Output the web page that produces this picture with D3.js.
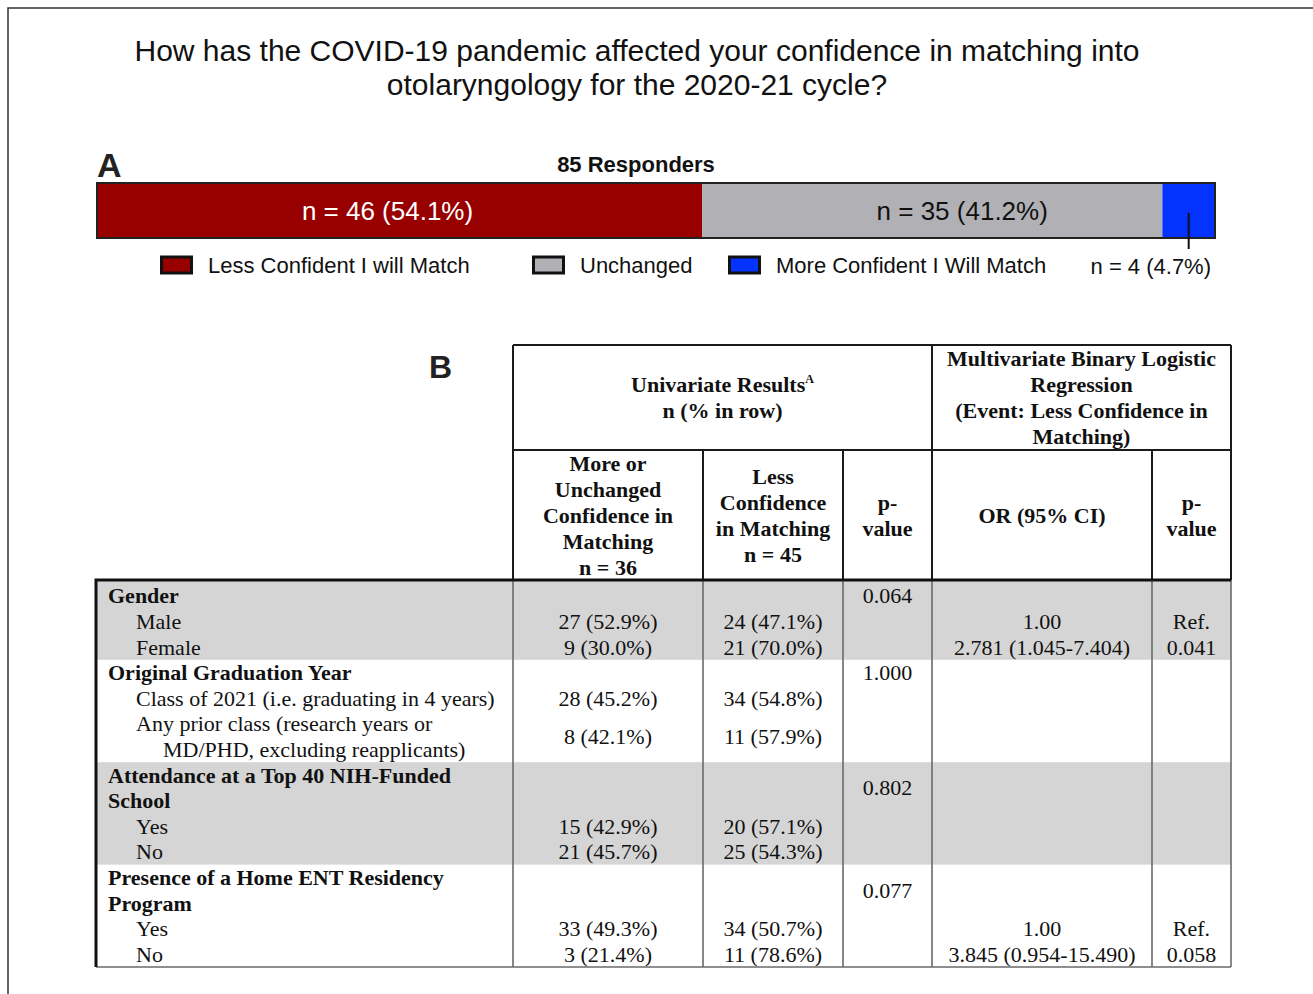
<!DOCTYPE html>
<html>
<head>
<meta charset="utf-8">
<script src="https://cdnjs.cloudflare.com/ajax/libs/d3/7.8.5/d3.min.js"></script>
<style>
    body { margin: 0; background: #fff; }
</style>
</head>
<body>
<script>

// ---- data (panel A) ----
var titleLines = ['How has the COVID-19 pandemic affected your confidence in matching into',
    'otolaryngology for the 2020-21 cycle?'];
var totalResponders = 85;
var responseCategories = ['Less Confident I will Match', 'Unchanged', 'More Confident I Will Match'];
var responseCounts = [46, 35, 4];
var responsePercents = [54.1, 41.2, 4.7];
var responseColors = ['#980000', '#b1b1b5', '#0432ff'];

// ---- data (panel B) ----
var univariateTitle = ['Univariate Results', 'n (% in row)'];
var multivariateTitle = ['Multivariate Binary Logistic', 'Regression', '(Event: Less Confidence in', 'Matching)'];
var columnTitles = [
    ['More or', 'Unchanged', 'Confidence in', 'Matching', 'n = 36'],
    ['Less', 'Confidence', 'in Matching', 'n = 45'],
    ['p-', 'value'],
    ['OR (95% CI)'],
    ['p-', 'value']
];
var groupLabels = [
    ['Gender'],
    ['Original Graduation Year'],
    ['Attendance at a Top 40 NIH-Funded', 'School'],
    ['Presence of a Home ENT Residency', 'Program']
];
var groupPValues = ['0.064', '1.000', '0.802', '0.077'];
var itemLabels = [
    [['Male'], ['Female']],
    [['Class of 2021 (i.e. graduating in 4 years)'], ['Any prior class (research years or', 'MD/PHD, excluding reapplicants)']],
    [['Yes'], ['No']],
    [['Yes'], ['No']]
];
var moreCounts = [[27, 9], [28, 8], [15, 21], [33, 3]];
var morePercents = [[52.9, 30.0], [45.2, 42.1], [42.9, 45.7], [49.3, 21.4]];
var lessCounts = [[24, 21], [34, 11], [20, 25], [34, 11]];
var lessPercents = [[47.1, 70.0], [54.8, 57.9], [57.1, 54.3], [50.7, 78.6]];
var oddsRatios = [['1.00', '2.781 (1.045-7.404)'], [null, null], [null, null], ['1.00', '3.845 (0.954-15.490)']];
var orPValues = [['Ref.', '0.041'], [null, null], [null, null], ['Ref.', '0.058']];

// ---- layout ----
var svgCanvasW = 1313, svgCanvasH = 994;
var sans = 'Liberation Sans, Arial, sans-serif';
var serif = 'Liberation Serif, Times New Roman, serif';
var barConfig = {x0: 97, x1: 1215, y: 183, height: 55};
var legendX = [160, 532, 728];
var colEdges = [96, 513, 703, 843, 932, 1152, 1231];
var headerTop = 345, headerMid = 450, bodyTop = 580, bodyBottom = 967;
var lineH = 26;
var tableFont = '22px';

//draw the layout
var mainLayout = d3.select("body")
    .append('svg')
    .attr('height', svgCanvasH)
    .attr('width', svgCanvasW);

//frame lines (top and left)
mainLayout.append('path')
    .attr('d', 'M8,994 L8,8 L1313,8')
    .style('fill', 'none')
    .style('stroke', '#333')
    .style('stroke-width', 1.5);

//title
mainLayout.selectAll('.title')
    .data(titleLines)
    .enter()
    .append('text')
    .attr('class', 'title')
    .attr('x', 637)
    .attr('y', function (d, i) { return 50 + i * 34; })
    .attr('dominant-baseline', 'central')
    .attr('text-anchor', 'middle')
    .style('font-family', sans)
    .style('font-size', '30px')
    .style('fill', '#111')
    .text(function (d) { return d; });

// ================= panel A =================
mainLayout.append('text')
    .attr('x', 97).attr('y', 177)
    .style('font-family', sans).style('font-weight', 'bold').style('font-size', '34px')
    .style('fill', '#222')
    .text('A');

mainLayout.append('text')
    .attr('x', 636).attr('y', 164)
    .attr('dominant-baseline', 'central')
    .attr('text-anchor', 'middle')
    .style('font-family', sans).style('font-weight', 'bold').style('font-size', '22px')
    .style('fill', '#111')
    .text(totalResponders + ' Responders');

var xBar = d3.scaleLinear()
    .domain([0, totalResponders])
    .range([barConfig.x0, barConfig.x1]);

var stackStarts = d3.cumsum([0].concat(responseCounts.slice(0, -1)));

var segments = responseCounts.map(function (c, i) {
    return {count: c, pct: responsePercents[i], start: stackStarts[i], color: responseColors[i]};
});

mainLayout.selectAll('.seg')
    .data(segments)
    .enter()
    .append('rect')
    .attr('class', 'seg')
    .attr('x', function (d) { return xBar(d.start); })
    .attr('y', barConfig.y)
    .attr('width', function (d) { return xBar(d.start + d.count) - xBar(d.start); })
    .attr('height', barConfig.height)
    .style('fill', function (d) { return d.color; });

//bar outline
mainLayout.append('rect')
    .attr('x', xBar(0)).attr('y', barConfig.y)
    .attr('width', xBar(totalResponders) - xBar(0))
    .attr('height', barConfig.height)
    .style('fill', 'none')
    .style('stroke', '#222')
    .style('stroke-width', 2);

//labels inside the two big segments
mainLayout.selectAll('.segLabel')
    .data(segments.slice(0, 2))
    .enter()
    .append('text')
    .attr('class', 'segLabel')
    .attr('x', function (d, i) { return xBar(d.start + d.count / 2) + (i === 0 ? -12 : 30); })
    .attr('y', barConfig.y + barConfig.height / 2)
    .attr('dominant-baseline', 'central')
    .attr('text-anchor', 'middle')
    .style('font-family', sans)
    .style('font-size', '26px')
    .style('fill', function (d, i) { return i === 0 ? '#fff' : '#111'; })
    .text(function (d) { return 'n = ' + d.count + ' (' + d.pct.toFixed(1) + '%)'; });

//leader for the small segment
var small = segments[2];
mainLayout.append('line')
    .attr('x1', xBar(small.start + small.count / 2))
    .attr('x2', xBar(small.start + small.count / 2))
    .attr('y1', barConfig.y + 30)
    .attr('y2', barConfig.y + 66)
    .style('stroke', '#111')
    .style('stroke-width', 2);

mainLayout.append('text')
    .attr('x', xBar(totalResponders) - 4)
    .attr('y', 266)
    .attr('dominant-baseline', 'central')
    .attr('text-anchor', 'end')
    .style('font-family', sans).style('font-size', '22px').style('fill', '#111')
    .text('n = ' + small.count + ' (' + small.pct.toFixed(1) + '%)');

//legend
var legend = mainLayout.selectAll('.legend')
    .data(responseCategories)
    .enter()
    .append('g')
    .attr('class', 'legend')
    .attr('transform', function (d, i) { return 'translate(' + legendX[i] + ',265)'; });

legend.append('rect')
    .attr('x', 1.5).attr('y', -8)
    .attr('width', 30).attr('height', 16)
    .style('fill', function (d, i) { return responseColors[i]; })
    .style('stroke', '#111')
    .style('stroke-width', 3);

legend.append('text')
    .attr('x', 48).attr('y', 0)
    .attr('dominant-baseline', 'central')
    .style('font-family', sans).style('font-size', '22px').style('fill', '#111')
    .text(function (d) { return d; });

// ================= panel B =================
mainLayout.append('text')
    .attr('x', 429).attr('y', 378)
    .style('font-family', sans).style('font-weight', 'bold').style('font-size', '32px')
    .style('fill', '#222')
    .text('B');

//flatten the rows into text lines
var lines = [];
var bands = [];
var lineIdx = 0;
groupLabels.forEach(function (g, gi) {
    var bandStart = lineIdx;
    g.forEach(function (t) {
        lines.push({text: t, level: 0, index: lineIdx});
        lineIdx++;
    });
    //single-line headers keep the p-value on their own line
    lines.push({pvalue: groupPValues[gi], center: g.length === 1 ? bandStart + 0.5 : bandStart + g.length / 2});
    itemLabels[gi].forEach(function (item, ii) {
        var itemStart = lineIdx;
        item.forEach(function (t, k) {
            lines.push({text: t, level: k === 0 ? 1 : 2, index: lineIdx});
            lineIdx++;
        });
        lines.push({
            center: itemStart + item.length / 2,
            more: moreCounts[gi][ii] + ' (' + morePercents[gi][ii].toFixed(1) + '%)',
            less: lessCounts[gi][ii] + ' (' + lessPercents[gi][ii].toFixed(1) + '%)',
            or: oddsRatios[gi][ii],
            orp: orPValues[gi][ii]
        });
    });
    bands.push({start: bandStart, end: lineIdx, shaded: gi % 2 === 0});
});

var yRow = d3.scaleLinear()
    .domain([0, lineIdx])
    .range([bodyTop + 3, bodyBottom]);

var colCenter = function (i) { return (colEdges[i] + colEdges[i + 1]) / 2; };

//shaded bands
mainLayout.selectAll('.band')
    .data(bands.filter(function (b) { return b.shaded; }))
    .enter()
    .append('rect')
    .attr('class', 'band')
    .attr('x', colEdges[0])
    .attr('y', function (d) { return d.start === 0 ? bodyTop : yRow(d.start); })
    .attr('width', colEdges[6] - colEdges[0])
    .attr('height', function (d) { return yRow(d.end) - (d.start === 0 ? bodyTop : yRow(d.start)); })
    .style('fill', '#d5d5d5');

//row labels
var labelX = [108, 136, 163];
mainLayout.selectAll('.rowLabel')
    .data(lines.filter(function (d) { return d.text; }))
    .enter()
    .append('text')
    .attr('class', 'rowLabel')
    .attr('x', function (d) { return labelX[d.level]; })
    .attr('y', function (d) { return yRow(d.index + 0.5); })
    .attr('dominant-baseline', 'central')
    .style('font-family', serif)
    .style('font-size', tableFont)
    .style('font-weight', function (d) { return d.level === 0 ? 'bold' : 'normal'; })
    .style('fill', '#111')
    .text(function (d) { return d.text; });

//cell values
var cellCols = [['more', 0], ['less', 1], ['pvalue', 2], ['or', 3], ['orp', 4]];
cellCols.forEach(function (cc) {
    mainLayout.selectAll('.cell-' + cc[0])
        .data(lines.filter(function (d) { return d[cc[0]]; }))
        .enter()
        .append('text')
        .attr('class', 'cell-' + cc[0])
        .attr('x', colCenter(cc[1] + 1))
        .attr('y', function (d) { return yRow(d.center); })
        .attr('dominant-baseline', 'central')
        .attr('text-anchor', 'middle')
        .style('font-family', serif)
        .style('font-size', tableFont)
        .style('fill', '#111')
        .text(function (d) { return d[cc[0]]; });
});

//header text
var univ = mainLayout.selectAll('.univ')
    .data(univariateTitle)
    .enter()
    .append('text')
    .attr('class', 'univ')
    .attr('x', (colEdges[1] + colEdges[4]) / 2)
    .attr('y', function (d, i) { return (headerTop + headerMid) / 2 + (i - (univariateTitle.length - 1) / 2) * lineH; })
    .attr('dominant-baseline', 'central')
    .attr('text-anchor', 'middle')
    .style('font-family', serif).style('font-weight', 'bold').style('font-size', tableFont)
    .style('fill', '#111')
    .text(function (d) { return d; });
univ.filter(function (d, i) { return i === 0; })
    .append('tspan')
    .attr('dy', '-0.45em')
    .style('font-size', '12px')
    .text('A');

mainLayout.selectAll('.multi')
    .data(multivariateTitle)
    .enter()
    .append('text')
    .attr('class', 'multi')
    .attr('x', (colEdges[4] + colEdges[6]) / 2)
    .attr('y', function (d, i) { return (headerTop + headerMid) / 2 + (i - (multivariateTitle.length - 1) / 2) * lineH; })
    .attr('dominant-baseline', 'central')
    .attr('text-anchor', 'middle')
    .style('font-family', serif).style('font-weight', 'bold').style('font-size', tableFont)
    .style('fill', '#111')
    .text(function (d) { return d; });

columnTitles.forEach(function (ct, ci) {
    mainLayout.selectAll('.colTitle' + ci)
        .data(ct)
        .enter()
        .append('text')
        .attr('class', 'colTitle' + ci)
        .attr('x', colCenter(ci + 1))
        .attr('y', function (d, i) { return (headerMid + bodyTop) / 2 + (i - (ct.length - 1) / 2) * lineH; })
        .attr('dominant-baseline', 'central')
        .attr('text-anchor', 'middle')
        .style('font-family', serif).style('font-weight', 'bold').style('font-size', tableFont)
        .style('fill', '#111')
        .text(function (d) { return d; });
});

//table rules
var darkLines = [
    [colEdges[1], headerTop, colEdges[6], headerTop],
    [colEdges[1], headerMid, colEdges[6], headerMid],
    [colEdges[1], headerTop, colEdges[1], bodyTop],
    [colEdges[4], headerTop, colEdges[4], bodyTop],
    [colEdges[6], headerTop, colEdges[6], bodyTop],
    [colEdges[2], headerMid, colEdges[2], bodyTop],
    [colEdges[3], headerMid, colEdges[3], bodyTop],
    [colEdges[5], headerMid, colEdges[5], bodyTop]
];
var greyLines = [1, 2, 3, 4, 5, 6].map(function (i) {
    return [colEdges[i], bodyTop, colEdges[i], bodyBottom];
}).concat([[colEdges[0], bodyBottom, colEdges[6], bodyBottom]]);

mainLayout.selectAll('.greyRule')
    .data(greyLines)
    .enter()
    .append('line')
    .attr('class', 'greyRule')
    .attr('x1', function (d) { return d[0]; }).attr('y1', function (d) { return d[1]; })
    .attr('x2', function (d) { return d[2]; }).attr('y2', function (d) { return d[3]; })
    .style('stroke', '#6a6a6a')
    .style('stroke-width', 1.6);

mainLayout.selectAll('.darkRule')
    .data(darkLines)
    .enter()
    .append('line')
    .attr('class', 'darkRule')
    .attr('x1', function (d) { return d[0]; }).attr('y1', function (d) { return d[1]; })
    .attr('x2', function (d) { return d[2]; }).attr('y2', function (d) { return d[3]; })
    .style('stroke', '#1a1a1a')
    .style('stroke-width', 2);

//thick body top and left rule
mainLayout.append('path')
    .attr('d', 'M' + colEdges[0] + ',' + bodyBottom + ' L' + colEdges[0] + ',' + bodyTop + ' L' + colEdges[6] + ',' + bodyTop)
    .style('fill', 'none')
    .style('stroke', '#111')
    .style('stroke-width', 3);

</script>
</body>
</html>
